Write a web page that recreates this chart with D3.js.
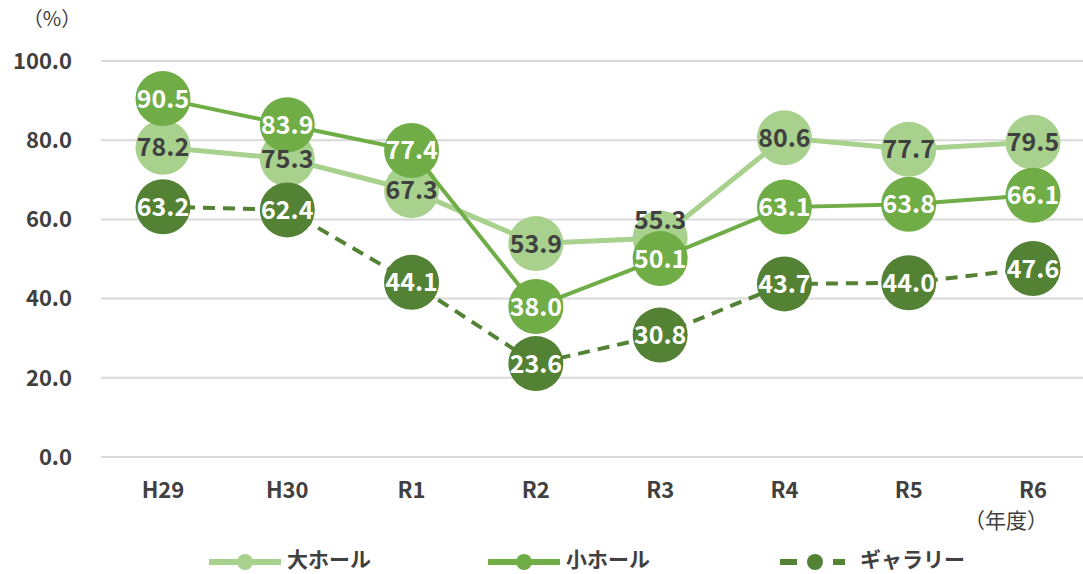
<!DOCTYPE html>
<html>
<head>
<meta charset="utf-8">
<script src="https://cdn.jsdelivr.net/npm/d3@7"></script>
<style>
  body { margin: 0; background: #fff; }
  svg { display: block; font-family: "Noto Sans CJK JP", "Noto Sans", sans-serif; }
</style>
</head>
<body>
<svg id="chart" width="1083" height="574"></svg>
<script>
var years = ["H29", "H30", "R1", "R2", "R3", "R4", "R5", "R6"];
var daiHall = [78.2, 75.3, 67.3, 53.9, 55.3, 80.6, 77.7, 79.5];
var shoHall = [90.5, 83.9, 77.4, 38.0, 50.1, 63.1, 63.8, 66.1];
var gallery = [63.2, 62.4, 44.1, 23.6, 30.8, 43.7, 44.0, 47.6];
var yTicks = [0, 20, 40, 60, 80, 100];

var series = [
  { name: "大ホール", values: daiHall, color: "#A9D18E", text: "#404040", width: 5, dash: null },
  { name: "小ホール", values: shoHall, color: "#70AD47", text: "#ffffff", width: 4, dash: null },
  { name: "ギャラリー", values: gallery, color: "#548235", text: "#ffffff", width: 4, dash: "12,8" }
];

var svg = d3.select("#chart");

var x = d3.scalePoint()
  .domain(years)
  .range([163, 1033]);

var y = d3.scaleLinear()
  .domain([0, 100])
  .range([457, 61]);

// gridlines
svg.append("g")
  .selectAll("line")
  .data(yTicks)
  .enter().append("line")
  .attr("x1", 101).attr("x2", 1083)
  .attr("y1", function (d) { return y(d); })
  .attr("y2", function (d) { return y(d); })
  .attr("stroke", "#d9d9d9")
  .attr("stroke-width", 2);

// y labels
svg.append("g")
  .selectAll("text")
  .data(yTicks)
  .enter().append("text")
  .attr("x", 72)
  .attr("y", function (d) { return y(d); })
  .attr("dy", "0.35em")
  .attr("text-anchor", "end")
  .attr("font-size", 22)
  .attr("font-weight", "bold")
  .attr("fill", "#404040")
  .text(function (d) { return d.toFixed(1); });

svg.append("text")
  .attr("x", 52).attr("y", 19)
  .attr("dy", "0.35em")
  .attr("text-anchor", "middle")
  .attr("font-size", 20)
  .attr("fill", "#404040")
  .text("（%）");

// x labels
svg.append("g")
  .selectAll("text")
  .data(years)
  .enter().append("text")
  .attr("x", function (d) { return x(d); })
  .attr("y", 490)
  .attr("dy", "0.35em")
  .attr("text-anchor", "middle")
  .attr("font-size", 22)
  .attr("font-weight", "bold")
  .attr("fill", "#404040")
  .text(function (d) { return d; });

svg.append("text")
  .attr("x", 1006).attr("y", 521)
  .attr("dy", "0.35em")
  .attr("text-anchor", "middle")
  .attr("font-size", 21)
  .attr("fill", "#404040")
  .text("（年度）");

var line = d3.line()
  .x(function (d, i) { return x(years[i]); })
  .y(function (d) { return y(d); });

// lines + markers, series by series
series.forEach(function (s) {
  var g = svg.append("g");
  g.append("path")
    .datum(s.values)
    .attr("d", line)
    .attr("fill", "none")
    .attr("stroke", s.color)
    .attr("stroke-width", s.width)
    .attr("stroke-dasharray", s.dash);
  g.selectAll("circle")
    .data(s.values)
    .enter().append("circle")
    .attr("cx", function (d, i) { return x(years[i]); })
    .attr("cy", function (d) { return y(d); })
    .attr("r", 27.5)
    .attr("fill", s.color);
});

// data labels drawn on top of everything
series.forEach(function (s) {
  svg.append("g")
    .selectAll("text")
    .data(s.values)
    .enter().append("text")
    .attr("x", function (d, i) { return x(years[i]); })
    .attr("y", function (d, i) {
      // R3 大ホール label sits above its marker (hidden behind 小ホール)
      if (s.name === "大ホール" && years[i] === "R3") return y(d) - 18;
      return y(d);
    })
    .attr("dy", "0.36em")
    .attr("text-anchor", "middle")
    .attr("font-size", 25)
    .attr("font-weight", "bold")
    .attr("fill", s.text)
    .text(function (d) { return d.toFixed(1); });
});

// legend
var legendX = [209, 488, 780];
var leg = svg.append("g")
  .selectAll("g")
  .data(series)
  .enter().append("g")
  .attr("transform", function (d, i) { return "translate(" + legendX[i] + ",562)"; });

leg.append("line")
  .attr("x1", 0).attr("x2", function (d) { return d.dash ? 65 : 72; })
  .attr("stroke", function (d) { return d.color; })
  .attr("stroke-width", 6)
  .attr("stroke-dasharray", function (d) { return d.dash ? "17,36" : null; });
leg.append("circle")
  .attr("cx", function (d) { return d.dash ? 35 : 36; })
  .attr("r", 8)
  .attr("fill", function (d) { return d.color; });
leg.append("text")
  .attr("x", function (d) { return d.dash ? 80 : 78; })
  .attr("y", -2)
  .attr("dy", "0.35em")
  .attr("font-size", 21)
  .attr("font-weight", "bold")
  .attr("fill", "#404040")
  .text(function (d) { return d.name; });
</script>
</body>
</html>
